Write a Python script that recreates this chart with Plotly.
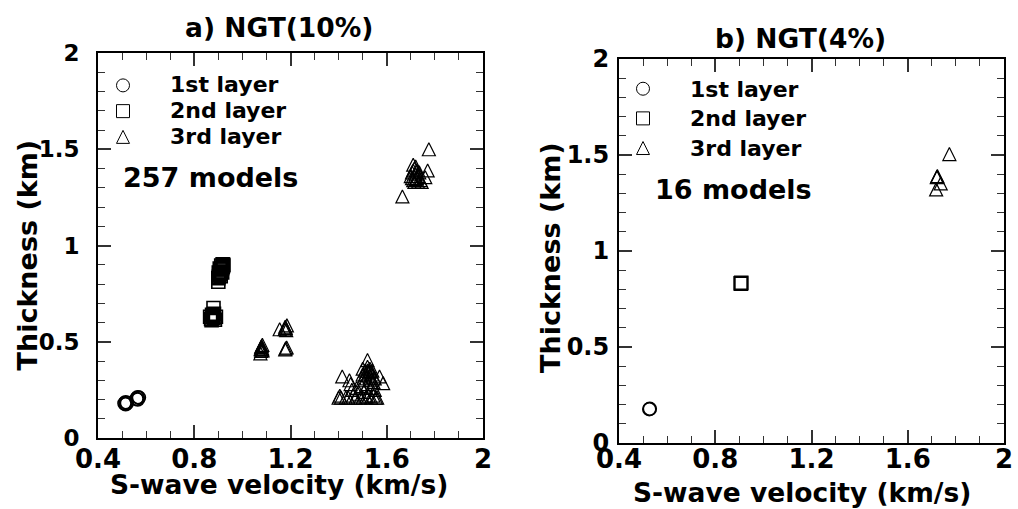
import plotly.graph_objects as go

# ---------------- data ----------------
# Panel a) NGT(10%)  -- S-wave velocity (km/s) and thickness (km)
a_l1_vs = [0.510, 0.515, 0.520, 0.515, 0.560, 0.565, 0.570, 0.565]
a_l1_th = [0.180, 0.175, 0.182, 0.186, 0.204, 0.200, 0.210, 0.212]

a_l2_vs = [0.900, 0.900, 0.902, 0.904, 0.906, 0.908, 0.910, 0.912, 0.914, 0.916,
           0.918, 0.920, 0.921, 0.918, 0.912, 0.906, 0.902, 0.916, 0.910,
           0.880, 0.866, 0.870, 0.874, 0.880, 0.886, 0.890, 0.882, 0.872, 0.878]
a_l2_th = [0.812, 0.830, 0.838, 0.845, 0.852, 0.858, 0.864, 0.870, 0.876, 0.882,
           0.888, 0.894, 0.900, 0.902, 0.896, 0.880, 0.860, 0.860, 0.840,
           0.675, 0.630, 0.618, 0.640, 0.624, 0.614, 0.630, 0.645, 0.612, 0.635]

a_l3_vs = [1.075, 1.078, 1.080, 1.082, 1.078, 1.080, 1.083, 1.076, 1.084,
           1.155, 1.185, 1.180, 1.176, 1.182, 1.178, 1.180, 1.184, 1.178,
           1.400, 1.405, 1.410, 1.415, 1.430, 1.445, 1.450, 1.455, 1.460, 1.470,
           1.475, 1.480, 1.490, 1.495, 1.500, 1.500, 1.505, 1.510, 1.515, 1.520,
           1.520, 1.520, 1.525, 1.525, 1.530, 1.530, 1.535, 1.535, 1.540, 1.545,
           1.550, 1.555, 1.560, 1.570, 1.585, 1.550, 1.510, 1.520, 1.530, 1.540, 1.500,
           1.440, 1.500, 1.515, 1.535, 1.545,
           1.665, 1.700, 1.705, 1.710, 1.710, 1.715, 1.715, 1.720, 1.720, 1.725,
           1.725, 1.730, 1.730, 1.735, 1.740, 1.745, 1.760, 1.770, 1.775, 1.710,
           1.705, 1.720]
a_l3_th = [0.440, 0.452, 0.460, 0.466, 0.472, 0.478, 0.484, 0.462, 0.455,
           0.565, 0.585, 0.572, 0.565, 0.560, 0.578, 0.466, 0.470, 0.460,
           0.210, 0.220, 0.210, 0.320, 0.210, 0.300, 0.280, 0.250, 0.220, 0.210,
           0.260, 0.230, 0.210, 0.270, 0.300, 0.330, 0.240, 0.350, 0.310, 0.405,
           0.370, 0.280, 0.340, 0.220, 0.320, 0.360, 0.300, 0.260, 0.330, 0.290,
           0.250, 0.210, 0.210, 0.320, 0.285, 0.310, 0.330, 0.350, 0.345, 0.350, 0.360,
           0.210, 0.210, 0.215, 0.210, 0.220,
           1.255, 1.360, 1.380, 1.420, 1.340, 1.400, 1.330, 1.370, 1.410, 1.350,
           1.390, 1.330, 1.360, 1.380, 1.340, 1.330, 1.355, 1.390, 1.500, 1.390,
           1.350, 1.345]

# Panel b) NGT(4%)
b_l1_vs = [0.526, 0.528]
b_l1_th = [0.176, 0.178]
b_l2_vs = [0.906, 0.908, 0.907]
b_l2_th = [0.832, 0.835, 0.830]
b_l3_vs = [1.722, 1.723, 1.721, 1.737, 1.718, 1.773]
b_l3_th = [1.387, 1.390, 1.384, 1.352, 1.321, 1.505]

layer_names = ["1st layer", "2nd layer", "3rd layer"]
titles = ["a) NGT(10%)", "b) NGT(4%)"]
model_counts = ["257 models", "16 models"]
x_title = "S-wave velocity (km/s)"
y_title = "Thickness (km)"

# ---------------- figure ----------------
W, H = 1018, 509
def px(x):
    return x / W
def py(y):
    return 1 - y / H

MS = 13
BLACK = "black"

def leg_text(s):
    return '<span style="font-size:22px">' + s + '</span>'

fig = go.Figure()

def add_panel(xa, ya, legend, l1, l2, l3):
    # data marks
    fig.add_trace(go.Scatter(x=l1[0], y=l1[1], mode="markers", name=layer_names[0],
                             xaxis=xa, yaxis=ya, showlegend=False,
                             marker=dict(symbol="circle-open", size=MS, color=BLACK,
                                         line=dict(width=1.6, color=BLACK))))
    fig.add_trace(go.Scatter(x=l2[0], y=l2[1], mode="markers", name=layer_names[1],
                             xaxis=xa, yaxis=ya, showlegend=False,
                             marker=dict(symbol="square-open", size=MS, color=BLACK,
                                         line=dict(width=1.6, color=BLACK))))
    fig.add_trace(go.Scatter(x=l3[0], y=l3[1], mode="markers", name=layer_names[2],
                             xaxis=xa, yaxis=ya, showlegend=False,
                             marker=dict(symbol="arrow-down-open", size=MS, color=BLACK,
                                         angle=180, standoff=MS / 2,
                                         line=dict(width=1.2, color=BLACK))))
    # legend entries (no data point, thin outlines as in the key)
    for name, sym, extra in [(layer_names[0], "circle-open", {}),
                             (layer_names[1], "square-open", {}),
                             (layer_names[2], "arrow-up-open", {"standoff": MS / 2})]:
        fig.add_trace(go.Scatter(x=[None], y=[None], mode="markers", name=leg_text(name),
                                 xaxis=xa, yaxis=ya, legend=legend, hoverinfo="skip",
                                 marker=dict(symbol=sym, size=MS, color=BLACK,
                                             line=dict(width=1.0, color=BLACK), **extra)))

add_panel("x", "y", "legend", (a_l1_vs, a_l1_th), (a_l2_vs, a_l2_th), (a_l3_vs, a_l3_th))
add_panel("x2", "y2", "legend2", (b_l1_vs, b_l1_th), (b_l2_vs, b_l2_th), (b_l3_vs, b_l3_th))

TC = "#333"
def xax(domain, anchor, tfs, standoff):
    return dict(domain=domain, anchor=anchor, range=[0.4, 2.0], tickmode="linear", tick0=0.4, dtick=0.4,
                ticks="inside", ticklen=13, tickwidth=1.5, tickcolor=TC,
                minor=dict(tickmode="linear", tick0=0.4, dtick=0.1, ticks="inside", ticklen=7,
                           tickwidth=1.2, tickcolor=TC, showgrid=False),
                showline=True, linewidth=2, linecolor=BLACK, mirror="ticks",
                showgrid=False, zeroline=False, tickfont=dict(size=tfs), automargin=False,
                ticklabelstandoff=standoff, fixedrange=True)

def yax(domain, anchor, tfs, standoff):
    return dict(domain=domain, anchor=anchor, range=[0, 2.0], tickmode="linear", tick0=0, dtick=0.5,
                ticks="inside", ticklen=13, tickwidth=1.5, tickcolor=TC,
                minor=dict(tickmode="linear", tick0=0, dtick=0.1, ticks="inside", ticklen=7,
                           tickwidth=1.2, tickcolor=TC, showgrid=False),
                showline=True, linewidth=2, linecolor=BLACK, mirror="ticks",
                showgrid=False, zeroline=False, tickfont=dict(size=tfs), automargin=False,
                ticklabelstandoff=standoff, fixedrange=True)

# plot boxes (pixels): a) x 98-483, y 53-438 ; b) x 619-1004, y 59-443
fig.update_layout(
    template="none",
    width=W, height=H,
    margin=dict(l=0, r=0, t=0, b=0, pad=0, autoexpand=False),
    paper_bgcolor="white", plot_bgcolor="white",
    font=dict(family="DejaVu Sans", weight="bold", color=BLACK, size=22),
    xaxis=xax([px(98), px(483)], "y", 26, -3),
    yaxis=yax([py(438), py(53)], "x", 23, 12),
    xaxis2=xax([px(619), px(1004)], "y2", 26, -8),
    yaxis2=yax([py(443), py(59)], "x2", 24, 3),
    legend=dict(x=px(76), y=py(67.5), xanchor="left", yanchor="top", bgcolor="rgba(0,0,0,0)",
                borderwidth=0, font=dict(size=17.5), itemwidth=84, tracegroupgap=0),
    legend2=dict(x=px(596), y=py(68.9), xanchor="left", yanchor="top", bgcolor="rgba(0,0,0,0)",
                 borderwidth=0, font=dict(size=20.5), itemwidth=84, tracegroupgap=0),
    showlegend=True,
)

ann = []
def add_text(text, x, y, size, xanchor="center", angle=0):
    ann.append(dict(text=text, x=px(x), y=py(y), xref="paper", yref="paper",
                    xanchor=xanchor, yanchor="middle", showarrow=False,
                    textangle=angle, font=dict(size=size)))

add_text(titles[0], 279, 27, 26.5)
add_text(titles[1], 800, 38.5, 26.5)
add_text(x_title, 279, 484, 26.5)
add_text(x_title, 801.7, 492, 26.5)
add_text(y_title, 26.5, 255, 27, angle=-90)
add_text(y_title, 550, 258, 27, angle=-90)
add_text(model_counts[0], 121, 177, 27, xanchor="left")
add_text(model_counts[1], 653, 189, 27, xanchor="left")
fig.update_layout(annotations=ann)

fig.write_html("out.html")
